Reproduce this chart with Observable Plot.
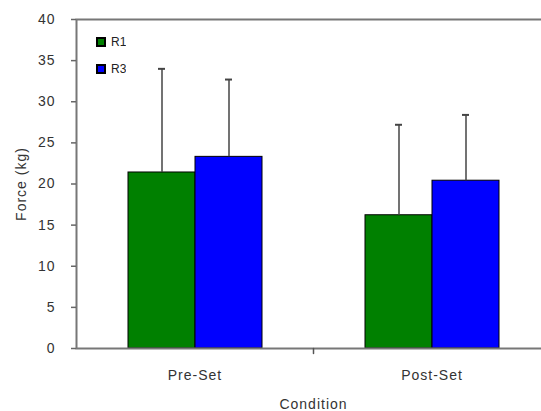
<!DOCTYPE html>
<html><head><meta charset="utf-8">
<script src="https://cdn.jsdelivr.net/npm/d3@7"></script>
<script src="https://cdn.jsdelivr.net/npm/@observablehq/plot@0.6"></script>
<style>
html,body{margin:0;padding:0;background:#fff;overflow:hidden;width:541px;height:411px}
#chart{position:relative;width:541px;height:411px;overflow:hidden}
#legend{position:absolute;left:97px;top:35px}
#legend, #legend *{font-family:"Liberation Sans",Arial,sans-serif;font-size:12px;color:#222}
#legend rect{stroke:#000;stroke-width:2}
#legend [class$="-swatch"]{margin-bottom:12px}
</style></head><body><div id="chart"></div>
<script>
const conditions = ["Pre-Set", "Post-Set"];
const series = ["R1", "R3"];
const r1Mean = [21.4, 16.2];
const r1SD = [12.6, 11.0];
const r3Mean = [23.3, 20.4];
const r3SD = [9.4, 8.0];
const yTicks = [0, 5, 10, 15, 20, 25, 30, 35, 40];
const colors = ["#008000", "#0000ff"];

const rows = conditions.flatMap((c, i) => [
  {condition: c, series: "R1", mean: r1Mean[i], sd: r1SD[i]},
  {condition: c, series: "R3", mean: r3Mean[i], sd: r3SD[i]}
]);

const lineShape = {draw(context, l) { context.moveTo(0, 0); context.lineTo(0, -l); }};

const plot = Plot.plot({
  width: 550, height: 411,
  marginLeft: 76, marginRight: 0, marginTop: 19, marginBottom: 63,
  style: {fontFamily: "Liberation Sans, Arial, sans-serif", fontSize: "14px", color: "#333", background: "#fff", maxWidth: "none", letterSpacing: "1px"},
  fx: {domain: conditions, paddingInner: 0, paddingOuter: 0},
  x: {domain: series, paddingInner: 0, paddingOuter: 0.75, axis: null},
  y: {domain: [0, 40]},
  color: {domain: series, range: colors},
  marks: [
    Plot.barY(rows, {fx: "condition", x: "series", y: "mean", fill: "series", stroke: "#000", strokeWidth: 1}),
    Plot.ruleX(rows, {fx: "condition", x: "series", y1: "mean", y2: d => d.mean + d.sd, stroke: "#444", strokeWidth: 1.5}),
    Plot.tickY(rows, {fx: "condition", x: "series", y: d => d.mean + d.sd, stroke: "#444", strokeWidth: 2, insetLeft: 30, insetRight: 30}),
    Plot.frame({facet: "super", stroke: "#777", strokeWidth: 2}),
    Plot.axisY({ticks: yTicks, tickSize: 5, tickPadding: 16, stroke: "#666", strokeWidth: 1.5, label: "Force (kg)", labelAnchor: "center", labelOffset: 60, labelArrow: "none"}),
    Plot.axisFx({anchor: "bottom", tickSize: 0, tickPadding: 22, label: "Condition", labelAnchor: "center", labelOffset: 60, labelArrow: "none"}),
    Plot.vector([0], {facet: "super", frameAnchor: "bottom", length: 5, rotate: 180, anchor: "start", shape: lineShape, stroke: "#555", strokeWidth: 1.5})
  ]
});
const chart = document.getElementById("chart");
chart.appendChild(plot);
const legend = plot.legend("color", {legend: "swatches", columns: 1, swatchSize: 8});
const lg = document.createElement("div");
lg.id = "legend";
lg.appendChild(legend);
chart.appendChild(lg);
</script></body></html>
